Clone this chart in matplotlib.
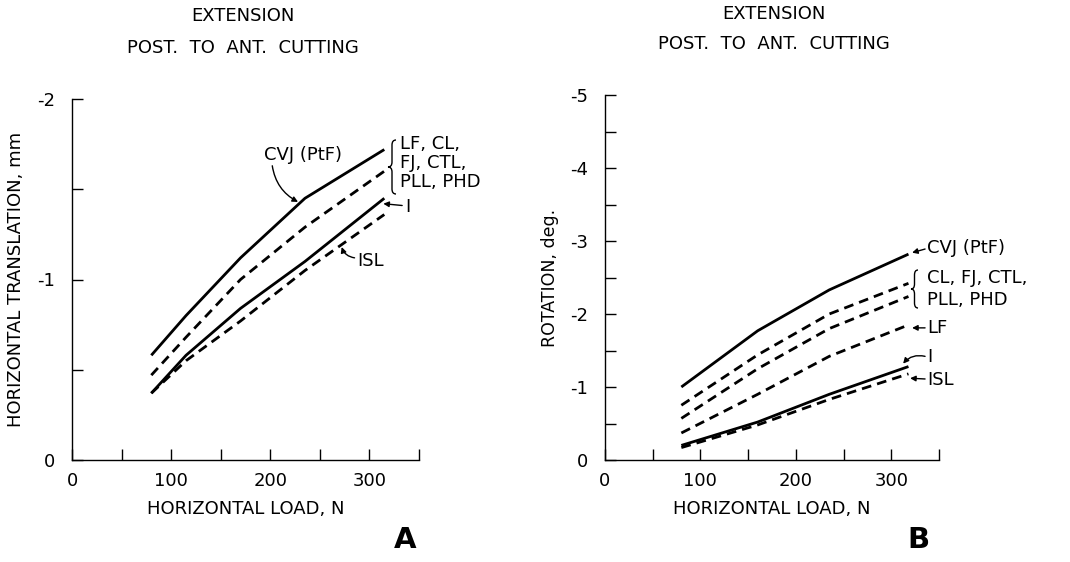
import matplotlib
matplotlib.use("Agg")
import matplotlib.pyplot as plt
from matplotlib.path import Path
from matplotlib.patches import PathPatch

# ---- data; displacements are negative
load_a = [80, 115, 170, 235, 315]
cvj_a = [-0.58, -0.80, -1.12, -1.45, -1.72]
lf_a = [-0.47, -0.68, -1.00, -1.29, -1.60]
i_a = [-0.37, -0.58, -0.84, -1.10, -1.45]
isl_a = [-0.37, -0.55, -0.77, -1.05, -1.36]

load_b = [80, 160, 235, 318]
cvj_b = [-1.00, -1.77, -2.33, -2.82]
cl_b = [-0.75, -1.44, -2.00, -2.42]
pll_b = [-0.57, -1.25, -1.80, -2.24]
lf_b = [-0.37, -0.90, -1.42, -1.85]
i_b = [-0.20, -0.52, -0.90, -1.28]
isl_b = [-0.17, -0.48, -0.83, -1.18]

x_ticks = [0, 50, 100, 150, 200, 250, 300, 350]
x_labels = ["0", "", "100", "", "200", "", "300", ""]
ya_ticks = [0, -0.5, -1, -1.5, -2]
ya_labels = ["0", "", "-1", "", "-2"]
yb_ticks = [0, -0.5, -1, -1.5, -2, -2.5, -3, -3.5, -4, -4.5, -5]
yb_labels = ["0", "", "-1", "", "-2", "", "-3", "", "-4", "", "-5"]

W, H = 1070, 562
FS = 13
plt.rcParams.update({"font.family": "DejaVu Sans", "font.size": FS})
fig = plt.figure(figsize=(W / 100, H / 100), dpi=100)

SOLID = dict(color="black", lw=2.0, solid_capstyle="butt")
DASH = dict(color="black", lw=2.0, ls=(0, (3.5, 2.2)), dash_capstyle="butt")
ARW = dict(arrowstyle="-|>", color="black", lw=1.0, mutation_scale=8, shrinkA=0, shrinkB=0)


def fx(px):
    return px / W


def fy(py):
    return 1 - py / H


def style_axes(ax, ymin, yticks, ylabels):
    ax.set_xlim(0, 350)
    ax.set_ylim(0, ymin)
    ax.spines[["top", "right"]].set_visible(False)
    ax.spines[["left", "bottom"]].set_linewidth(1.0)
    ax.set_xticks(x_ticks)
    ax.set_xticklabels(x_labels)
    ax.set_yticks(yticks)
    ax.set_yticklabels(ylabels)
    ax.tick_params(direction="in", length=8, width=1.0, labelsize=FS)
    ax.tick_params(axis="x", pad=9)
    ax.tick_params(axis="y", pad=12)
    ax.set_facecolor("none")


def brace(x_tip, x_end, y_top, y_bot):
    # curly brace opening to the right, drawn in pixel coords of the figure
    xm = (x_tip + x_end) / 2
    ym = (y_top + y_bot) / 2
    d = 5
    pts = [(x_end, y_top), (xm, y_top), (xm, y_top + d),
           (xm, ym - d), (xm, ym), (x_tip, ym),
           (xm, ym), (xm, ym + d),
           (xm, y_bot - d), (xm, y_bot), (x_end, y_bot)]
    codes = [Path.MOVETO, Path.CURVE3, Path.CURVE3,
             Path.LINETO, Path.CURVE3, Path.CURVE3,
             Path.CURVE3, Path.CURVE3,
             Path.LINETO, Path.CURVE3, Path.CURVE3]
    verts = [(fx(x), fy(y)) for x, y in pts]
    fig.patches.append(PathPatch(Path(verts, codes), transform=fig.transFigure,
                                 fill=False, lw=1.0, color="black"))


# ---- panel A
axa = fig.add_axes([fx(72), fy(460), fx(419) - fx(72), fy(99) - fy(460)])
style_axes(axa, -2, ya_ticks, ya_labels)
axa.plot(load_a, cvj_a, **SOLID)
axa.plot(load_a, lf_a, **DASH)
axa.plot(load_a, i_a, **SOLID)
axa.plot(load_a, isl_a, **DASH)
axa.set_xlabel("HORIZONTAL LOAD, N", fontsize=FS, labelpad=7)
axa.set_ylabel("HORIZONTAL TRANSLATION, mm", fontsize=FS, labelpad=9)

axa.text(233, -1.69, "CVJ (PtF)", ha="center", va="center")
axa.annotate("", xy=(228, -1.43), xytext=(202, -1.63),
             arrowprops=dict(connectionstyle="arc3,rad=0.25", **ARW))
axa.text(331, -1.645, "LF, CL,\nFJ, CTL,\nPLL, PHD", ha="left", va="center",
         linespacing=1.1)
axa.text(336, -1.40, "I", ha="left", va="center")
axa.annotate("", xy=(314, -1.42), xytext=(333, -1.41), arrowprops=ARW)
axa.text(301, -1.10, "ISL", ha="center", va="center")
axa.annotate("", xy=(272, -1.18), xytext=(285, -1.12),
             arrowprops=dict(connectionstyle="arc3,rad=-0.3", **ARW))
brace(388, 396, 140, 194)

# ---- panel B
axb = fig.add_axes([fx(605), fy(460), fx(939) - fx(605), fy(95) - fy(460)])
style_axes(axb, -5, yb_ticks, yb_labels)
axb.plot(load_b, cvj_b, **SOLID)
axb.plot(load_b, cl_b, **DASH)
axb.plot(load_b, pll_b, **DASH)
axb.plot(load_b, lf_b, **DASH)
axb.plot(load_b, i_b, **SOLID)
axb.plot(load_b, isl_b, **DASH)
axb.set_xlabel("HORIZONTAL LOAD, N", fontsize=FS, labelpad=7)
axb.set_ylabel("ROTATION, deg.", fontsize=FS - 0.5, labelpad=8)

axb.text(337.5, -2.90, "CVJ (PtF)", ha="left", va="center")
axb.annotate("", xy=(321.8, -2.84), xytext=(335.4, -2.89), arrowprops=ARW)
axb.text(337.5, -2.34, "CL, FJ, CTL,\nPLL, PHD", ha="left", va="center",
         linespacing=1.25)
axb.text(337.5, -1.81, "LF", ha="left", va="center")
axb.annotate("", xy=(321.8, -1.81), xytext=(335.4, -1.81), arrowprops=ARW)
axb.text(337.5, -1.41, "I", ha="left", va="center")
axb.annotate("", xy=(312.4, -1.32), xytext=(335.4, -1.42),
             arrowprops=dict(connectionstyle="arc3,rad=0.3", **ARW))
axb.text(337.5, -1.10, "ISL", ha="left", va="center")
axb.annotate("", xy=(319.7, -1.12), xytext=(335.4, -1.11), arrowprops=ARW)
brace(911, 918, 270, 308)

# ---- titles and panel letters
for cx, y1, y2 in [(243, 16, 48), (774, 14, 44)]:
    fig.text(fx(cx), fy(y1), "EXTENSION", ha="center", va="center", fontsize=FS)
    fig.text(fx(cx), fy(y2), "POST.  TO  ANT.  CUTTING", ha="center", va="center", fontsize=FS)
fig.text(fx(405), fy(540), "A", ha="center", va="center", fontsize=21, fontweight="bold")
fig.text(fx(918), fy(540), "B", ha="center", va="center", fontsize=21, fontweight="bold")

fig.savefig("out.png", dpi=100)
